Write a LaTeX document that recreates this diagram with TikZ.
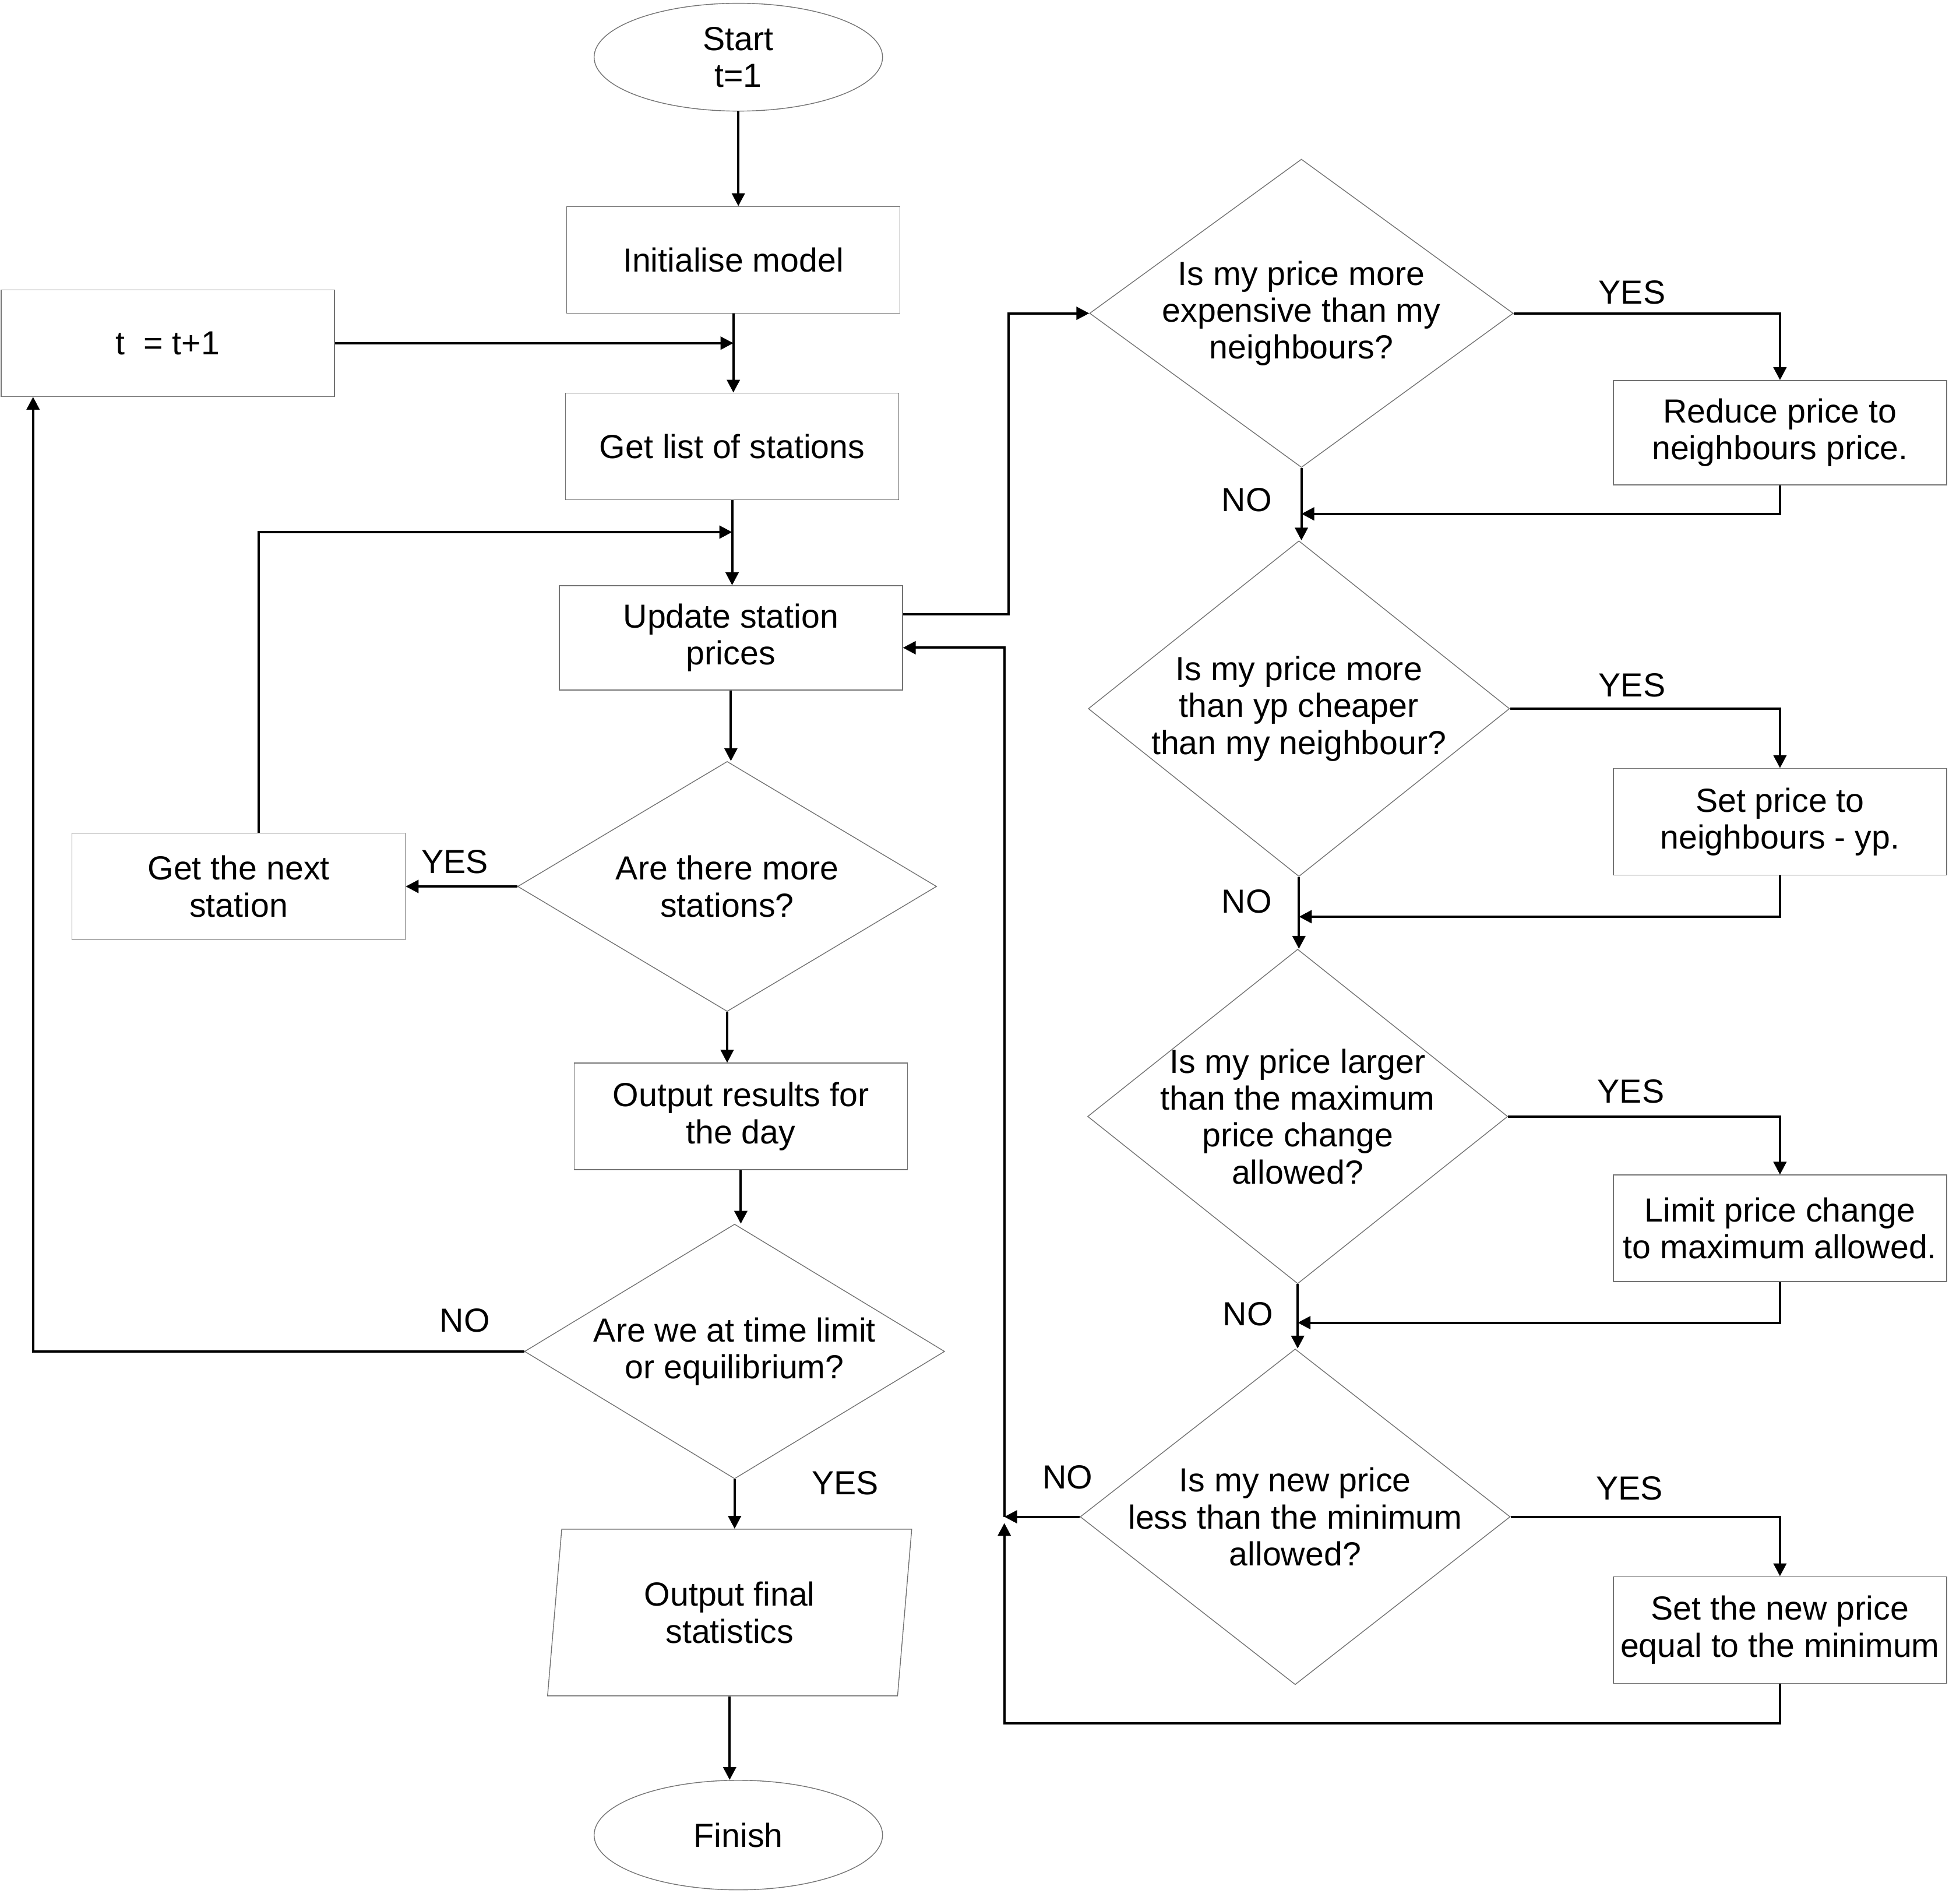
\documentclass[tikz,border=0pt]{standalone}
\usepackage{fontspec}
\setmainfont{Liberation Sans}
\usepackage{tikz}
\usetikzlibrary{positioning, arrows.meta, calc, shapes.geometric}
\tikzset{
  shp/.style   = {draw=black!55, line width=0.4pt, align=center,
                  font=\fontsize{16.3}{18}\selectfont},
  blk/.style   = {shp, rectangle, inner sep=0pt, minimum width=5.72cm,
                  minimum height=1.83cm},
  dec/.style   = {shp, diamond, inner xsep=-1.5em, inner ysep=0pt, aspect=1.3},
  term/.style  = {shp, ellipse, inner sep=0pt, minimum width=4.95cm,
                  minimum height=1.85cm},
  io/.style    = {shp, trapezium, trapezium left angle=77,
                  trapezium right angle=103, trapezium stretches body,
                  inner sep=0pt, minimum width=6.25cm, minimum height=2.86cm},
  ar/.style    = {-{Triangle[length=2.2mm, width=2.2mm]}, line width=1.15pt},
  lbl/.style   = {font=\fontsize{16.3}{18}\selectfont, inner sep=0pt},
}

\begin{document}
\begin{tikzpicture}[x=0.21333mm, y=-0.21333mm]
  \useasboundingbox (0,0) rectangle (1568,1531);
  % main column
  \node[term] (start) at (594,46) {Start\\t=1};
  \node[blk] (init) at (590,209) {Initialise model};
  \node[blk] (tinc) at (135,276) {t\ \ = t+1};
  \node[blk] (getlist) at (589,359) {Get list of stations};
  \node[blk, minimum width=5.89cm, minimum height=1.79cm] (update) at (588,513)
    {Update station\\prices};
  \node[dec, aspect=1.65, minimum width=7.19cm, minimum height=4.29cm] (more)
    at (585,713) {Are there more\\stations?};
  \node[blk] (next) at (192,713) {Get the next\\station};
  \node[blk] (output) at (596,898) {Output results for\\the day};
  \node[dec, aspect=1.65, minimum width=7.21cm, minimum height=4.37cm] (limit)
    at (591,1087) {Are we at time limit\\or equilibrium?};
  \node[io] (stats) at (587,1297) {Output final\\statistics};
  \node[term, minimum height=1.88cm] (finish) at (594,1476) {Finish};
  % price rules
  \node[dec, minimum width=7.27cm, minimum height=5.29cm] (qexp) at (1047,252)
    {Is my price more\\expensive than my\\neighbours?};
  \node[blk, minimum height=1.79cm] (reduce) at (1432,348)
    {Reduce price to\\neighbours price.};
  \node[dec, minimum width=7.23cm, minimum height=5.76cm] (qcheap) at (1045,570)
    {Is my price more\\than yp cheaper\\than my neighbour?};
  \node[blk] (setyp) at (1432,661) {Set price to\\neighbours - yp.};
  \node[dec, minimum width=7.21cm, minimum height=5.74cm] (qmax) at (1044,898)
    {Is my price larger\\than the maximum\\price change\\allowed?};
  \node[blk] (capchg) at (1432,988) {Limit price change\\to maximum allowed.};
  \node[dec, minimum width=7.38cm, minimum height=5.76cm] (qmin) at (1042,1220)
    {Is my new price\\less than the minimum\\allowed?};
  \node[blk] (setmin) at (1432,1311) {Set the new price\\equal to the minimum};
  % labels
  \node[lbl] (yes1) at (1313,235) {YES};
  \node[lbl] (no1) at (1003,402) {NO};
  \node[lbl] (yes2) at (1313,551) {YES};
  \node[lbl] (no2) at (1003,725) {NO};
  \node[lbl] (yes3) at (1312,878) {YES};
  \node[lbl] (no3) at (1004,1057) {NO};
  \node[lbl] (yes4) at (1311,1197) {YES};
  \node[lbl] (no4) at (859,1188) {NO};
  \node[lbl] (yes5) at (366,693) {YES};
  \node[lbl] (no5) at (374,1062) {NO};
  \node[lbl] (yes6) at (680,1193) {YES};
  % main flow
  \draw[ar] (start.south) -- (start.south |- init.north);
  \draw[ar] (init.south) -- (init.south |- getlist.north);
  \draw[ar] (tinc.east) -- (tinc.east -| init.south);
  \draw[ar] (getlist.south) -- (getlist.south |- update.north);
  \coordinate (rejoin) at (589,428);
  \draw[ar] ($(next.north)+(16,0)$) |- (rejoin);
  \draw[ar] (update.south) -- (update.south |- more.north);
  \draw[ar] (more.west) -- (more.west -| next.east);
  \draw[ar] (more.south) -- (more.south |- output.north);
  \draw[ar] (output.south) -- (output.south |- limit.north);
  \draw[ar] (limit.west) -| ($(tinc.south west)+(26,0)$);
  \draw[ar] (limit.south) -- (limit.south |- stats.north);
  \draw[ar] (stats.south) -- (stats.south |- finish.north);
  % price loop
  \draw[ar] ($(update.east)+(0,-19)$) -- ++(85,0) |- (qexp.west);
  \draw[ar] (qexp.east) -| (reduce.north);
  \draw[ar] (reduce.south) |- ($(qexp.south)+(0,37)$);
  \draw[ar] (qexp.south) -- (qexp.south |- qcheap.north);
  \draw[ar] (qcheap.east) -| (setyp.north);
  \draw[ar] (setyp.south) |- ($(qcheap.south)+(0,32)$);
  \draw[ar] (qcheap.south) -- (qcheap.south |- qmax.north);
  \draw[ar] (qmax.east) -| (capchg.north);
  \draw[ar] (capchg.south) |- ($(qmax.south)+(0,31)$);
  \draw[ar] (qmax.south) -- (qmax.south |- qmin.north);
  \draw[ar] (qmin.east) -| (setmin.north);
  \coordinate (retx) at (808,1386);
  \draw[ar] (setmin.south) |- (retx) -- ($(retx |- qmin.west)+(0,5)$);
  \draw[ar] (qmin.west) -- (qmin.west -| retx);
  \draw[ar] (qmin.west -| retx) |- ($(update.east)+(0,8)$);
\end{tikzpicture}
\end{document}
